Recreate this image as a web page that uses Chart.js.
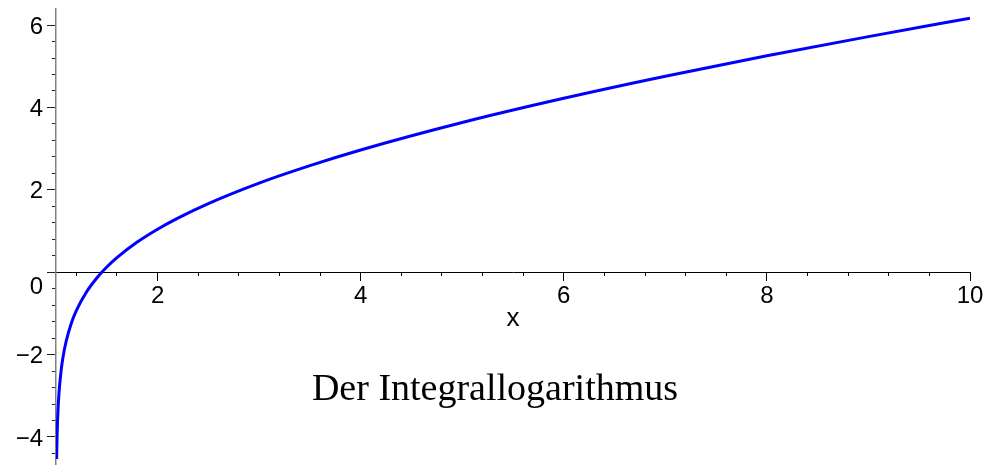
<!DOCTYPE html>
<html>
<head>
<meta charset="utf-8">
<script src="https://cdn.jsdelivr.net/npm/chart.js@4"></script>
<style>
    html, body { margin: 0; padding: 0; background: #fff; }
    #chart { display: block; }
</style>
</head>
<body>
<canvas id="chart" width="990" height="465"></canvas>
<script>
// li(x)
const xValues = [1.006, 1.008, 1.01, 1.015, 1.02, 1.03, 1.05, 1.07, 1.1, 1.15, 1.2, 1.3, 1.4, 1.5, 1.6, 1.8, 2, 2.2, 2.5, 3, 3.5, 4, 5, 6, 7, 8, 9, 10];
const liValues = [-4.536, -4.247, -4.023, -3.615, -3.325, -2.914, -2.394, -2.047, -1.676, -1.246, -0.934, -0.480, -0.145, 0.125, 0.354, 0.733, 1.045, 1.315, 1.667, 2.164, 2.588, 2.968, 3.635, 4.222, 4.757, 5.254, 5.720, 6.166];

const xMajorTicks = [2, 4, 6, 8, 10];
const yMajorTicks = [-4, -2, 0, 2, 4, 6];
const yTickLabels = ['\u22124', '\u22122', '0', '2', '4', '6'];
const xRange = [1, 10];
const yRange = [-4.68, 6.39];
const minorStep = 0.4;

const axisTitle = 'x';
const chartTitle = 'Der Integrallogarithmus';

function minorTicks(from, range) {
    const out = [];
    for (let v = from; v <= range[1] + 1e-9; v += minorStep) {
        out.push({ value: Math.round(v * 10) / 10 });
    }
    return out;
}

// object-positioned axes still report label overflow as padding; drop it
const noPadding = s => { s.paddingTop = 0; s.paddingBottom = 0; s.paddingLeft = 0; s.paddingRight = 0; };

const tickFont = { family: 'Liberation Sans', size: 24 };

// y labels: Chart.js puts them right on an object-positioned axis, so draw them off the ticks
// x title and plot title sit inside the plot area like in Maple
const textPlugin = {
    id: 'mapleText',
    afterDraw(chart) {
        const ctx = chart.ctx;
        const xs = chart.scales.x;
        const ys = chart.scales.y;
        const axisX = xs.getPixelForValue(xRange[0]);
        ctx.save();
        ctx.fillStyle = '#000';
        ctx.font = '24px "Liberation Sans"';
        ctx.textAlign = 'right';
        ctx.textBaseline = 'middle';
        yMajorTicks.forEach((v, i) => {
            // Maple drops the 0 below the x axis
            const shift = v === 0 ? 15 : 2;
            ctx.fillText(yTickLabels[i], axisX - 13, ys.getPixelForValue(v) + shift);
        });
        ctx.textAlign = 'center';
        ctx.textBaseline = 'alphabetic';
        ctx.font = '26px "Liberation Sans"';
        ctx.fillText(axisTitle, (xs.left + xs.right) / 2, ys.getPixelForValue(0) + 54);
        ctx.font = '38px "Liberation Serif"';
        ctx.fillText(chartTitle, chart.width / 2, 400);
        ctx.restore();
    }
};

new Chart(document.getElementById('chart'), {
    type: 'line',
    data: {
        datasets: [{
            data: xValues.map((x, i) => ({ x: x, y: liValues[i] })),
            borderColor: '#0000ff',
            borderWidth: 3,
            pointRadius: 0,
            cubicInterpolationMode: 'monotone',
            fill: false
        }]
    },
    options: {
        responsive: false,
        animation: false,
        devicePixelRatio: 1,
        layout: { padding: { left: 56, right: 20, top: 9, bottom: 0 } },
        plugins: { legend: { display: false }, tooltip: { enabled: false } },
        scales: {
            x: {
                type: 'linear',
                min: xRange[0], max: xRange[1],
                position: { y: 0 },
                afterBuildTicks: s => { s.ticks = xMajorTicks.map(v => ({ value: v })); },
                afterFit: noPadding,
                grid: { drawOnChartArea: false, tickLength: 8, tickColor: '#000' },
                border: { color: '#000', width: 1 },
                ticks: { font: tickFont, color: '#000', padding: 2, maxRotation: 0, autoSkip: false }
            },
            xMinor: {
                axis: 'x',
                type: 'linear',
                min: xRange[0], max: xRange[1],
                position: { y: 0 },
                afterBuildTicks: s => { s.ticks = minorTicks(1.2, xRange); },
                afterFit: noPadding,
                grid: { drawOnChartArea: false, tickLength: 4, tickColor: '#000' },
                border: { display: false },
                ticks: { display: false }
            },
            y: {
                type: 'linear',
                min: yRange[0], max: yRange[1],
                position: { x: 1 },
                afterBuildTicks: s => { s.ticks = yMajorTicks.map(v => ({ value: v })); },
                afterFit: noPadding,
                grid: { drawOnChartArea: false, tickLength: 8, tickColor: '#222' },
                border: { color: '#808080', width: 1.5 },
                ticks: { display: false }
            },
            yMinor: {
                axis: 'y',
                type: 'linear',
                min: yRange[0], max: yRange[1],
                position: { x: 1 },
                afterBuildTicks: s => { s.ticks = minorTicks(-4.4, yRange); },
                afterFit: noPadding,
                grid: { drawOnChartArea: false, tickLength: 4, tickColor: '#222' },
                border: { display: false },
                ticks: { display: false }
            }
        }
    },
    plugins: [textPlugin]
});
</script>
</body>
</html>
